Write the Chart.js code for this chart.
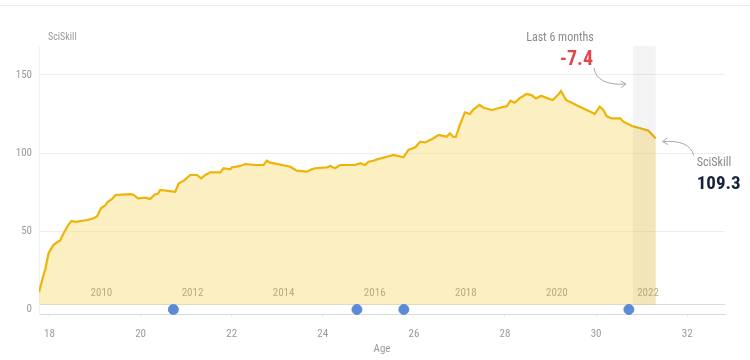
<!DOCTYPE html>
<html>
<head>
<meta charset="utf-8">
<script src="https://cdn.jsdelivr.net/npm/chart.js@4.4.1/dist/chart.umd.min.js"></script>
<style>
  html, body { margin: 0; padding: 0; background: #fff; }
  #wrap { width: 750px; height: 360px; position: relative; }
  #rule { position: absolute; left: 0; top: 5px; width: 750px; height: 1px; background: #ececec; }
</style>
</head>
<body>
<div id="wrap"><canvas id="skillChart"></canvas><div id="rule"></div></div>
<script>
// SciSkill by age
const ages = [17.77, 17.85, 17.91, 17.98, 18.08, 18.17, 18.23, 18.31, 18.40, 18.48,
  18.57, 18.83, 18.97, 19.05, 19.13, 19.23, 19.28, 19.37, 19.45, 19.78,
  19.85, 19.94, 20.10, 20.21, 20.32, 20.38, 20.43, 20.76, 20.84, 20.95,
  21.09, 21.24, 21.33, 21.42, 21.53, 21.75, 21.82, 21.97, 22.00, 22.19,
  22.30, 22.52, 22.70, 22.77, 22.85, 23.29, 23.43, 23.65, 23.76, 23.83,
  24.09, 24.16, 24.27, 24.38, 24.71, 24.82, 24.93, 25.00, 25.11, 25.19,
  25.41, 25.55, 25.77, 25.88, 26.03, 26.14, 26.25, 26.39, 26.54, 26.72,
  26.79, 26.86, 26.92, 27.01, 27.12, 27.23, 27.31, 27.44, 27.53, 27.71,
  27.93, 28.04, 28.12, 28.21, 28.32, 28.47, 28.58, 28.68, 28.79, 28.94,
  29.05, 29.16, 29.23, 29.34, 29.64, 29.90, 29.97, 30.08, 30.16, 30.23,
  30.34, 30.53, 30.60, 30.79, 30.97, 31.15, 31.31];
const skill = [11, 20, 26, 36, 41, 43, 44, 48.7, 53.4, 56.6,
  56, 57.2, 58.3, 59.8, 64.7, 66.8, 68.9, 70.5, 73.2, 73.7,
  73.2, 71.1, 71.5, 70.7, 73.7, 74, 76.4, 75.3, 80.7, 82.4,
  86, 86, 83.9, 86, 87.7, 87.7, 90.3, 89.6, 90.8, 91.8,
  93, 92.4, 92.4, 95.1, 93.9, 91.3, 88.8, 88.1, 89.6, 90.3,
  90.9, 91.8, 90.3, 92.4, 92.4, 93.5, 92.4, 94.5, 95.1, 96.0,
  97.7, 98.8, 97.3, 102, 103.7, 107.3, 106.8, 108.8, 111.6, 110.5,
  112.7, 110.5, 110.3, 118, 126.1, 125, 128, 130.8, 129, 127.6,
  129.3, 130, 133.5, 132.2, 135, 137.8, 137.1, 135, 136.7, 135,
  134, 137.1, 139.7, 134, 129.7, 126.1, 125, 129.7, 127.6, 123.7,
  122.2, 122.2, 120.1, 117.3, 115.9, 114.3, 109.3];

const eventAges = [20.72, 24.75, 25.78, 30.72];
const ageTicks = [18, 20, 22, 24, 26, 28, 30, 32];
const yTicks = [0, 50, 100, 150];
const yearTicks = [2010, 2012, 2014, 2016, 2018, 2020, 2022];
const birthYear = 1990.86;
const lastChange = '-7.4';
const lastValue = '109.3';
const bandStart = 30.81;   // last 6 months
const baseValue = 3;       // floor of the area

const FONT = "'Roboto Condensed', 'Liberation Sans Narrow', Roboto, sans-serif";

function arrow(ctx, sx, sy, cx, cy, tx, ty) {
    ctx.beginPath();
    ctx.moveTo(sx, sy);
    ctx.quadraticCurveTo(cx, cy, tx, ty);
    ctx.stroke();
    const a = Math.atan2(ty - cy, tx - cx);
    ctx.beginPath();
    ctx.moveTo(tx - 6 * Math.cos(a - 0.6), ty - 6 * Math.sin(a - 0.6));
    ctx.lineTo(tx, ty);
    ctx.lineTo(tx - 6 * Math.cos(a + 0.6), ty - 6 * Math.sin(a + 0.6));
    ctx.stroke();
}

const overlay = {
    id: 'overlay',
    afterDatasetsDraw(chart) {
        const ctx = chart.ctx;
        const x = chart.scales.x, y = chart.scales.y;
        const area = chart.chartArea;
        ctx.save();
        // grey band for the last 6 months
        const lastAge = ages[ages.length - 1];
        ctx.fillStyle = 'rgba(0,0,0,0.045)';
        ctx.fillRect(x.getPixelForValue(bandStart), area.top,
            x.getPixelForValue(lastAge) - x.getPixelForValue(bandStart),
            y.getPixelForValue(baseValue) - area.top);
        // calendar years inside the area
        ctx.font = '11px ' + FONT;
        ctx.fillStyle = '#bcaa80';
        ctx.textAlign = 'center';
        ctx.textBaseline = 'middle';
        yearTicks.forEach(yr => {
            ctx.fillText(String(yr), x.getPixelForValue(yr - birthYear), y.getPixelForValue(baseValue) - 12);
        });
        ctx.restore();
    },
    afterDraw(chart) {
        const ctx = chart.ctx;
        const x = chart.scales.x, y = chart.scales.y;
        ctx.save();
        ctx.textBaseline = 'middle';
        // axis title on top
        ctx.font = '10px ' + FONT;
        ctx.fillStyle = '#9a9a9a';
        ctx.textAlign = 'left';
        ctx.fillText('SciSkill', 48, 37);

        const bx = x.getPixelForValue(bandStart);
        ctx.font = '12px ' + FONT;
        ctx.fillStyle = '#8a8a8a';
        ctx.textAlign = 'center';
        ctx.fillText('Last 6 months', bx - 73, 38);
        ctx.font = 'bold 20px ' + FONT;
        ctx.fillStyle = '#e0474c';
        ctx.textAlign = 'right';
        ctx.fillText(lastChange, bx - 40, 60);

        const ex = x.getPixelForValue(ages[ages.length - 1]);
        const ey = y.getPixelForValue(skill[skill.length - 1]);
        ctx.font = '12px ' + FONT;
        ctx.fillStyle = '#8a8a8a';
        ctx.textAlign = 'left';
        ctx.fillText('SciSkill', ex + 41, ey + 24);
        ctx.font = 'bold 19px ' + FONT;
        ctx.fillStyle = '#17223a';
        ctx.fillText(lastValue, ex + 41, ey + 46);

        ctx.strokeStyle = '#a8a8a8';
        ctx.lineWidth = 1;
        arrow(ctx, bx - 39, 68, bx - 36, 86, bx - 7, 84);
        arrow(ctx, ex + 38, ey + 17, ex + 34, ey + 1, ex + 7, ey + 3);
        ctx.restore();
    }
};

new Chart(document.getElementById('skillChart'), {
    type: 'scatter',
    data: {
        datasets: [{
            label: 'events',
            data: eventAges.map(a => ({ x: a, y: 0 })),
            backgroundColor: '#5b8bd6',
            borderColor: '#5b8bd6',
            pointRadius: 5,
            clip: false
        }, {
            label: 'SciSkill',
            data: ages.map((a, i) => ({ x: a, y: skill[i] })),
            showLine: true,
            borderColor: '#eeb408',
            borderWidth: 2.2,
            backgroundColor: 'rgba(248, 214, 100, 0.4)',
            fill: { value: baseValue },
            pointRadius: 0,
            tension: 0
        }]
    },
    options: {
        responsive: true,
        maintainAspectRatio: false,
        animation: false,
        layout: { padding: { top: 46, right: 25, left: 0, bottom: 0 } },
        plugins: { legend: { display: false }, tooltip: { enabled: false } },
        scales: {
            x: {
                type: 'linear',
                min: 17.77,
                max: 32.83,
                afterBuildTicks: s => { s.ticks = ageTicks.map(v => ({ value: v })); },
                afterFit: s => { s.height = 46; },
                grid: { drawOnChartArea: false, tickLength: 4, color: '#eeeeee' },
                border: { color: '#d8dbe0' },
                ticks: { color: '#9a9a9a', font: { family: FONT, size: 11 }, padding: 10, maxRotation: 0 },
                title: { display: true, text: 'Age', color: '#9a9a9a', font: { family: FONT, size: 11 }, padding: { top: 2, bottom: 4 } }
            },
            y: {
                min: -2.9,
                max: 168.5,
                afterBuildTicks: s => { s.ticks = [0, baseValue].concat(yTicks.slice(1)).map(v => ({ value: v })); },
                afterFit: s => { s.width = 39; },
                grid: {
                    drawTicks: false,
                    color: c => c.tick.value === 0 ? 'rgba(0,0,0,0)' : (c.tick.value === baseValue ? '#d8dbe0' : '#eeeeee')
                },
                border: { color: '#f2f2f2' },
                ticks: {
                    color: '#9a9a9a',
                    font: { family: FONT, size: 11 },
                    padding: 7,
                    callback: v => v === baseValue ? '' : v
                }
            }
        }
    },
    plugins: [overlay]
});
</script>
</body>
</html>
